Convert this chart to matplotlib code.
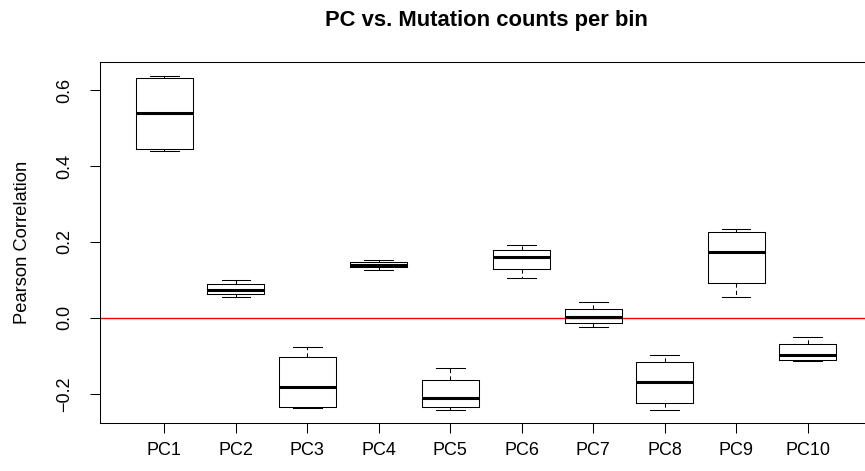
import matplotlib
matplotlib.use('Agg')
import matplotlib.pyplot as plt

plt.rcParams['font.family'] = ['Liberation Sans', 'DejaVu Sans']

labels = ['PC1', 'PC2', 'PC3', 'PC4', 'PC5', 'PC6', 'PC7', 'PC8', 'PC9', 'PC10']
whis_lo = [0.439, 0.056, -0.238, 0.126, -0.244, 0.104, -0.025, -0.242, 0.055, -0.114]
q1 = [0.444, 0.062, -0.234, 0.133, -0.234, 0.128, -0.014, -0.224, 0.091, -0.111]
med = [0.539, 0.073, -0.181, 0.140, -0.211, 0.160, 0.003, -0.168, 0.173, -0.099]
q3 = [0.632, 0.088, -0.104, 0.147, -0.164, 0.179, 0.024, -0.115, 0.227, -0.070]
whis_hi = [0.638, 0.101, -0.078, 0.153, -0.131, 0.191, 0.041, -0.099, 0.233, -0.051]
yticks = [-0.2, 0.0, 0.2, 0.4, 0.6]

stats = [dict(label=l, whislo=a, q1=b, med=c, q3=d, whishi=e, fliers=[])
         for l, a, b, c, d, e in zip(labels, whis_lo, q1, med, q3, whis_hi)]

W, H = 865, 471
fig = plt.figure(figsize=(W / 100, H / 100), dpi=100)
# plot frame runs past the right edge, as in the original
ax = fig.add_axes([100 / W, 48 / H, 772 / W, 361 / H])

lw = 0.75
ax.bxp(stats, positions=range(1, 11), widths=0.8, showfliers=False,
       boxprops=dict(color='black', linewidth=lw),
       medianprops=dict(color='black', linewidth=2.2, solid_capstyle='butt'),
       whiskerprops=dict(color='black', linewidth=lw, linestyle=(0, (4, 3))),
       capprops=dict(color='black', linewidth=lw),
       capwidths=0.4)

ax.axhline(0, color='red', linewidth=1)

ax.set_xlim(0.1, 10.9)
ax.set_ylim(-0.277, 0.674)
ax.set_yticks(yticks)
ax.set_yticklabels([f'{v:.1f}'.replace('-', '\u2212') for v in yticks],
                   rotation=90, va='center')
ax.set_xticks(range(1, 11))
ax.set_xticklabels(labels)
ax.tick_params(axis='both', length=7, width=0.75, labelsize=13)
ax.tick_params(axis='y', pad=12)
ax.tick_params(axis='x', pad=7)
for s in ax.spines.values():
    s.set_linewidth(0.75)
ax.spines['right'].set_visible(False)

ax.set_ylabel('Pearson Correlation', fontsize=13.2)
ax.yaxis.set_label_coords(-0.089, 0.5)

fig.text(486 / W, 1 - 25.7 / H, 'PC vs. Mutation counts per bin',
         ha='center', va='baseline', fontsize=15.8, fontweight='bold')

fig.savefig('out.png', dpi=100, facecolor='white')
